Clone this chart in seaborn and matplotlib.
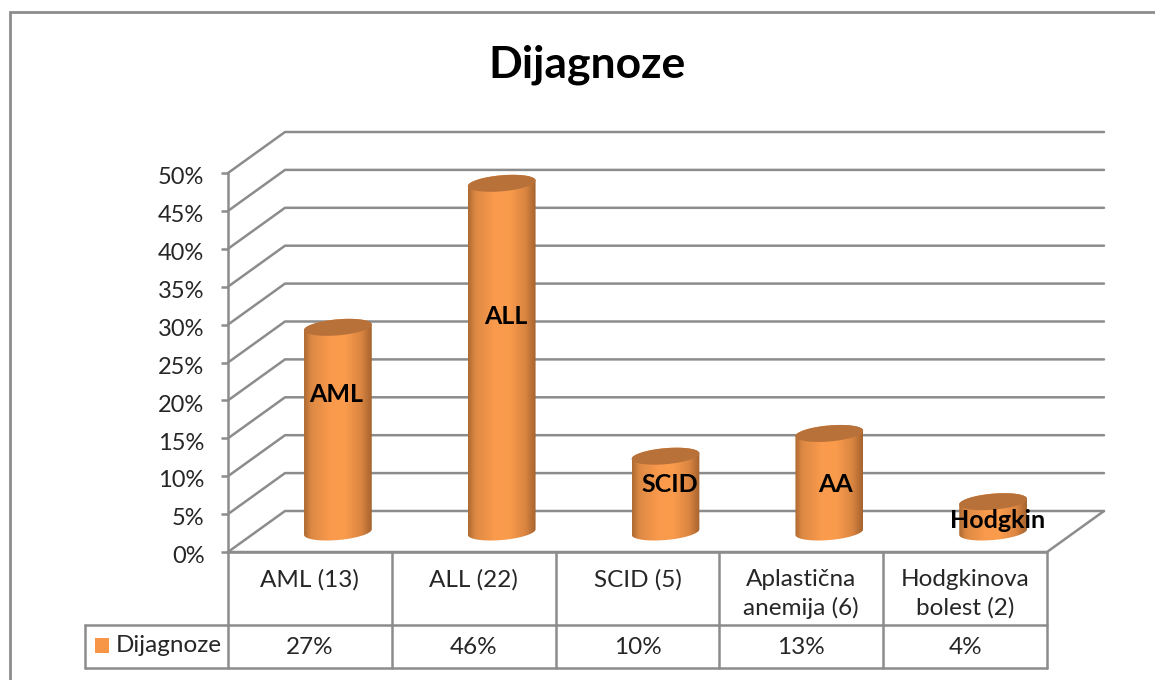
import numpy as np
import matplotlib
matplotlib.use("Agg")
import matplotlib.pyplot as plt
import seaborn as sns
from matplotlib.colors import LinearSegmentedColormap
from matplotlib.patches import Polygon
from matplotlib.path import Path
from matplotlib.transforms import IdentityTransform, ScaledTranslation

W, H = 1155, 680

categories = ["AML (13)", "ALL (22)", "SCID (5)", "Aplastična\nanemija (6)", "Hodgkinova\nbolest (2)"]
values = [27, 46, 10, 13, 4]
value_text = ["27%", "46%", "10%", "13%", "4%"]
bar_labels = ["AML", "ALL", "SCID", "AA", "Hodgkin"]
y_ticks = [0, 5, 10, 15, 20, 25, 30, 35, 40, 45, 50]
series_name = "Dijagnoze"

# where the data labels sit in the picture (pixels)
label_pos = [(336, 394), (506, 317), (670, 485), (836, 484), (998, 520)]

GRAY = "#8c8c8c"
ORANGE = "#f79646"
CAP = "#b9713a"
TEXT = "#262626"
LW = 1.8

sns.set_theme(style="white")
plt.rcParams["font.family"] = ["Lato", "DejaVu Sans"]


def box(x0, y_top, x1, y_bottom):
    # pixel box of the picture to a figure rectangle
    return [x0 / W, 1 - y_bottom / H, (x1 - x0) / W, (y_bottom - y_top) / H]


fig = plt.figure(figsize=(W / 100, H / 100), dpi=100, facecolor="white")

# whole picture in pixels, for the frame, the walls and the table
page = fig.add_axes([0, 0, 1, 1], zorder=0)
page.set_xlim(0, W)
page.set_ylim(H, 0)
page.axis("off")

# front value axis
front = fig.add_axes(box(228, 173, 1047, 552), zorder=1, facecolor="none")
front.set_ylim(0, 50)
front.set_xlim(0, 1)
front.set_yticks(y_ticks)
front.set_yticklabels([f"{t}%" for t in y_ticks], fontsize=17, color=TEXT)
front.set_xticks([])
front.tick_params(axis="y", length=5, width=LW, color=GRAY, pad=12, left=True)
sns.despine(ax=front, top=True, right=True, bottom=True)
front.spines["left"].set_color(GRAY)
front.spines["left"].set_linewidth(LW)
# labels sit a little under their ticks
drop = ScaledTranslation(0, -2 / 72, fig.dpi_scale_trans)
for tick_label in front.get_yticklabels():
    tick_label.set_transform(tick_label.get_transform() + drop)

# bars sit between the front edge and the back wall
ax = fig.add_axes(box(256, 153, 1075, 532), zorder=2, facecolor="none")
sns.barplot(x=list(range(len(values))), y=values, color=ORANGE, width=0.415,
            saturation=1, ax=ax)
ax.set_xlim(-0.5, 4.5)
ax.set_ylim(0, 50)
ax.axis("off")

table = fig.add_axes([0, 0, 1, 1], zorder=3, facecolor="none")
table.set_xlim(0, W)
table.set_ylim(H, 0)
table.axis("off")

# outer frame
page.plot([10, 10, W], [H, 12, 12], color=GRAY, lw=2, solid_joinstyle="miter")

# walls: one back line and one slanted line per tick
dx, dy = 57, -41
for t in y_ticks:
    y = 552 - t * (552 - 173) / 50
    page.plot([228, 228 + dx, 1047 + dx], [y, y + dy, y + dy], color=GRAY, lw=LW)
page.plot([228, 1047, 1047 + dx], [552, 552, 552 + dy], color=GRAY, lw=LW)

# data table
col_edges = [228 + i * 163.8 for i in range(6)]
table.plot([228, 1047], [552, 552], color=GRAY, lw=LW)
table.plot([85, 1047], [625, 625], color=GRAY, lw=LW)
table.plot([85, 1047], [668, 668], color=GRAY, lw=LW)
table.plot([85, 85], [625, 668], color=GRAY, lw=LW)
for x in col_edges:
    table.plot([x, x], [552, 668], color=GRAY, lw=LW)
for i in range(len(categories)):
    cx = (col_edges[i] + col_edges[i + 1]) / 2
    table.text(cx, 569, categories[i], ha="center", va="top", fontsize=17.5,
               color=TEXT, linespacing=1.38)
    table.text(cx, 647, value_text[i], ha="center", va="center", fontsize=17.5, color=TEXT)
table.add_patch(plt.Rectangle((95, 638), 14, 15, color=ORANGE, lw=0))
table.text(116, 646, series_name, ha="left", va="center", fontsize=17.5, color=TEXT)

page.text(587, 65, series_name, ha="center", va="center", fontsize=32,
          fontweight="bold", color="black")

# turn each flat bar into a cylinder
shade = LinearSegmentedColormap.from_list("cyl", [
    (0.0, "#ad6a32"), (0.1, "#dc8843"), (0.38, "#f99a4c"), (0.6, "#fb9c4d"),
    (0.85, "#d98541"), (1.0, "#a5632e")])
grad = np.linspace(0, 1, 128).reshape(1, -1)
tilt = np.radians(5)
u = np.array([np.cos(tilt), np.sin(tilt)])
v = np.array([-np.sin(tilt), np.cos(tilt)])


def ellipse(cx, cy, a, b, t):
    # points on a slightly tilted ellipse, in display pixels
    return (np.array([cx, cy])[None, :]
            + np.outer(a * np.cos(t), u) + np.outer(b * np.sin(t), v))


for bar in list(ax.patches):
    x0, w, h = bar.get_x(), bar.get_width(), bar.get_height()
    left = ax.transData.transform((x0, 0))
    right = ax.transData.transform((x0 + w, h))
    cx = (left[0] + right[0]) / 2
    a = (right[0] - left[0]) / 2
    b = 8
    low = ellipse(cx, left[1], a, b, np.linspace(np.pi, 2 * np.pi, 60))
    high = ellipse(cx, right[1], a, b, np.linspace(0, np.pi, 60))
    outline = np.vstack([low, high])
    bar.set_visible(False)
    im = ax.imshow(grad, extent=(x0, x0 + w, -3, h + 3), cmap=shade, aspect="auto", zorder=3)
    im.set_clip_box(fig.bbox)
    im.set_clip_path(Path(np.vstack([outline, outline[:1]])), IdentityTransform())
    cap = ellipse(cx, right[1], a, b, np.linspace(0, 2 * np.pi, 120))
    ax.add_patch(Polygon(cap, closed=True, transform=IdentityTransform(), facecolor=CAP,
                         edgecolor="none", zorder=4, clip_on=False))
ax.set_xlim(-0.5, 4.5)
ax.set_ylim(0, 50)

for (x, y), label in zip(label_pos, bar_labels):
    table.text(x, y, label, ha="center", va="center", fontsize=18, fontweight="bold", color="black")

fig.savefig("out.png", dpi=100)
